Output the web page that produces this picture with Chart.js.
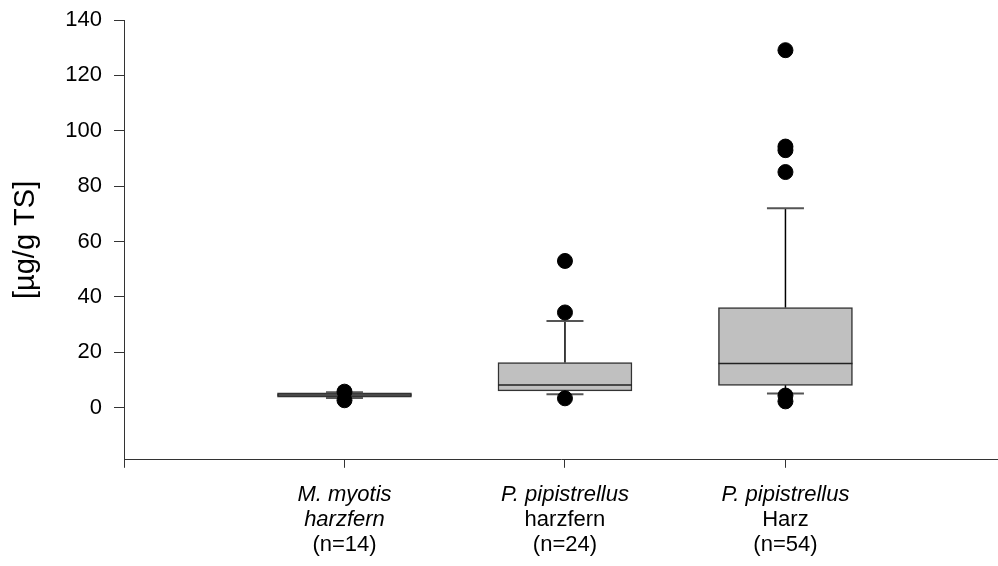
<!DOCTYPE html>
<html>
<head>
<meta charset="utf-8">
<script src="https://cdn.jsdelivr.net/npm/chart.js@4.4.1/dist/chart.umd.min.js"></script>
<style>
  html, body { margin: 0; padding: 0; background: #fff; }
  canvas { display: block; }
</style>
</head>
<body>
<canvas id="chart" width="998" height="566"></canvas>
<script>
// Category label lines (three rows under each box)
const species = ['M. myotis', 'P. pipistrellus', 'P. pipistrellus'];
const sites = ['harzfern', 'harzfern', 'Harz'];
const siteItalic = [true, false, false];
const counts = ['(n=14)', '(n=24)', '(n=54)'];

// Box statistics in µg/g TS
const whiskerLow = [3.5, 4.9, 5.1];
const q1 = [3.8, 6.1, 8.1];
const median = [4.6, 8.2, 16.0];
const q3 = [5.4, 16.3, 36.2];
const whiskerHigh = [5.6, 31.3, 72.0];
const outliers = [
  [5.8, 2.7],
  [53.0, 34.4, 3.4],
  [129.1, 94.3, 93.0, 85.1, 4.4, 2.3]
];

// Axis ticks
const yTicks = [0, 20, 40, 60, 80, 100, 120, 140];
const xTicks = [0, 1, 2, 3];

const FAMILY = "'Liberation Sans', Arial, Helvetica, sans-serif";
const AXIS_COLOR = '#333';
const LABEL_SIZE = 22;

const pos = i => i + 1;

const boxData = species.map((_, i) => ({ x: pos(i), y: [q1[i], q3[i]] }));
const medianData = species.map((_, i) => ({ x: pos(i), y: median[i] }));
const capData = [];
const whiskerData = [];
species.forEach((_, i) => {
  capData.push({ x: pos(i), y: whiskerLow[i] }, { x: pos(i), y: whiskerHigh[i] });
  whiskerData.push(
    { x: pos(i), y: q3[i] }, { x: pos(i), y: whiskerHigh[i] }, { x: pos(i), y: null },
    { x: pos(i), y: whiskerLow[i] }, { x: pos(i), y: q1[i] }, { x: pos(i), y: null }
  );
});
const outlierData = [];
outliers.forEach((vals, i) => vals.forEach(v => outlierData.push({ x: pos(i), y: v })));

const setXTicks = scale => { scale.ticks = xTicks.map(v => ({ value: v })); };
const labelFor = arr => value => (value >= 1 && value <= arr.length ? arr[value - 1] : '');
// fixed band heights for the three stacked label rows under the plot
const fixHeight = h => scale => { scale.height = h; };

const xRange = { type: 'linear', min: 0, max: 3.964, offset: false };

new Chart(document.getElementById('chart'), {
  type: 'bar',
  data: {
    datasets: [
      {
        type: 'bar',
        data: boxData,
        backgroundColor: '#c0c0c0',
        borderColor: '#333',
        borderWidth: 1.5,
        borderSkipped: false,
        barThickness: 134,
        grouped: false,
        xAxisID: 'x',
        order: 5
      },
      {
        type: 'line',
        data: whiskerData,
        borderColor: '#000',
        borderWidth: 1.5,
        pointRadius: 0,
        spanGaps: false,
        fill: false,
        xAxisID: 'x',
        order: 4
      },
      {
        type: 'scatter',
        data: medianData,
        pointStyle: 'line',
        pointRadius: 67,
        pointBorderColor: '#222',
        pointBorderWidth: 1.5,
        xAxisID: 'x',
        order: 3
      },
      {
        type: 'scatter',
        data: capData,
        pointStyle: 'line',
        pointRadius: 18.5,
        pointBorderColor: '#555',
        pointBorderWidth: 2,
        xAxisID: 'x',
        order: 2
      },
      {
        type: 'scatter',
        data: outlierData,
        pointStyle: 'circle',
        pointRadius: 7.5,
        pointBackgroundColor: '#000',
        pointBorderColor: '#000',
        pointBorderWidth: 1,
        xAxisID: 'x',
        order: 1
      }
    ]
  },
  options: {
    responsive: false,
    animation: false,
    events: [],
    layout: { autoPadding: false, padding: { left: 6, top: 20, right: 0, bottom: 8.2 } },
    plugins: { legend: { display: false }, tooltip: { enabled: false } },
    scales: {
      x: {
        ...xRange,
        position: 'bottom',
        weight: 0,
        afterBuildTicks: setXTicks,
        afterFit: fixHeight(47.6),
        grid: { display: true, offset: false, drawOnChartArea: false, tickLength: 8, color: AXIS_COLOR },
        border: { display: true, color: AXIS_COLOR, width: 1 },
        ticks: {
          callback: labelFor(species),
          autoSkip: false, maxRotation: 0, padding: 14, color: '#000',
          font: { family: FAMILY, size: LABEL_SIZE, style: 'italic' }
        }
      },
      x2: {
        ...xRange,
        position: 'bottom',
        weight: 1,
        afterBuildTicks: setXTicks,
        afterFit: fixHeight(25.2),
        grid: { display: false, drawTicks: false, offset: false },
        border: { display: false },
        ticks: {
          callback: labelFor(sites),
          autoSkip: false, maxRotation: 0, padding: -0.4, color: '#000',
          font: ctx => ({
            family: FAMILY, size: LABEL_SIZE,
            style: ctx.tick && siteItalic[ctx.tick.value - 1] ? 'italic' : 'normal'
          })
        }
      },
      x3: {
        ...xRange,
        position: 'bottom',
        weight: 2,
        afterBuildTicks: setXTicks,
        afterFit: fixHeight(25.2),
        grid: { display: false, drawTicks: false, offset: false },
        border: { display: false },
        ticks: {
          callback: labelFor(counts),
          autoSkip: false, maxRotation: 0, padding: -0.4, color: '#000',
          font: { family: FAMILY, size: LABEL_SIZE }
        }
      },
      y: {
        type: 'linear',
        min: -18.8,
        max: 140,
        afterBuildTicks: scale => { scale.ticks = yTicks.map(v => ({ value: v })); },
        afterFit: scale => { scale.width = 118; scale.paddingTop = 0; scale.paddingBottom = 0; },
        grid: { display: true, drawOnChartArea: false, tickLength: 10, color: AXIS_COLOR },
        border: { display: true, color: AXIS_COLOR, width: 1 },
        ticks: { padding: 12, color: '#000', font: { family: FAMILY, size: 22 } },
        title: {
          display: true,
          text: '[µg/g TS]',
          color: '#000',
          font: { family: FAMILY, size: 29 },
          padding: { top: 3, bottom: 10 }
        }
      }
    }
  }
});
</script>
</body>
</html>
